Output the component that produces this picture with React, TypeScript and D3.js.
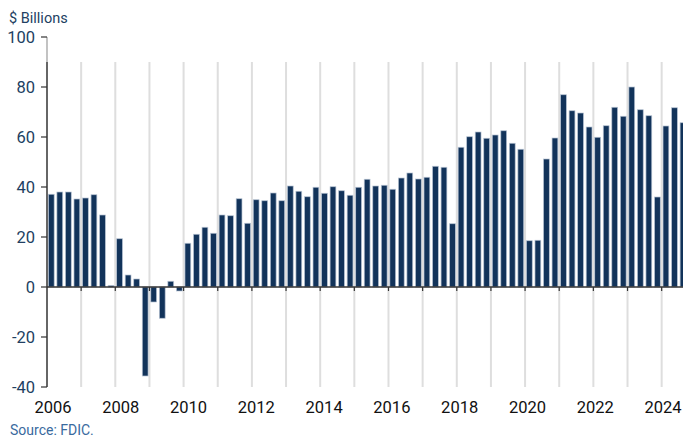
import React from "react";
import * as d3 from "d3";

const startYear = 2006;
const values: number[] = [
  37.1, 38.0, 38.0, 35.2,
  35.6, 36.9, 28.8, 0.6,
  19.3, 4.8, 3.2, -35.6,
  -6.0, -12.5, 2.3, -1.6,
  17.5, 21.1, 23.9, 21.5,
  28.8, 28.5, 35.3, 25.5,
  34.9, 34.5, 37.6, 34.5,
  40.4, 38.3, 36.1, 39.9,
  37.5, 40.1, 38.5, 36.7,
  39.9, 43.1, 40.4, 40.7,
  39.1, 43.6, 45.6, 43.2,
  43.9, 48.3, 47.9, 25.3,
  55.9, 60.1, 62.0, 59.5,
  60.8, 62.5, 57.5, 55.1,
  18.5, 18.7, 51.2, 59.6,
  76.9, 70.5, 69.6, 64.0,
  59.9, 64.5, 71.9, 68.3,
  80.0, 70.9, 68.5, 36.0,
  64.4, 71.7, 65.7,
];
const yTicks = [-40, -20, 0, 20, 40, 60, 80, 100];
const yearLabels = [2006, 2008, 2010, 2012, 2014, 2016, 2018, 2020, 2022, 2024];
const gridYears = d3.range(2007, 2025);

const W = 683;
const H = 438;
const x0 = 47;
const qW = 8.537;

export default function App() {
  const quarters = values.map((_, i) => i);
  const x = d3
    .scaleBand<number>()
    .domain(quarters)
    .range([x0, x0 + values.length * qW])
    .paddingInner(0.32)
    .paddingOuter(0.16);
  const yearX = d3.scaleLinear().domain([2006, 2024]).range([x0, x0 + 18 * 4 * qW]);
  const labelX = d3.scaleLinear().domain([2006, 2024]).range([53, 663]);
  const y = d3.scaleLinear().domain([-40, 100]).range([387, 37]);
  const font = "Roboto, 'Noto Sans', sans-serif";

  return (
    <svg
      width={W}
      height={H}
      style={{ position: "absolute", left: 0, top: 0, background: "#fff" }}
      fontFamily={font}
    >
      <defs>
        <clipPath id="clip">
          <rect x={0} y={0} width={W} height={H} />
        </clipPath>
      </defs>
      {gridYears.map((yr) => (
        <line
          key={"g" + yr}
          x1={yearX(yr)}
          x2={yearX(yr)}
          y1={y(90)}
          y2={y(-40)}
          stroke="#dedede"
          strokeWidth={2}
        />
      ))}
      {values.map((v, i) => (
        <rect
          key={"b" + i}
          x={x(i)}
          width={x.bandwidth()}
          y={y(Math.max(0, v))}
          height={Math.abs(y(v) - y(0))}
          fill="#12335a"
          stroke="#b7c3d3"
          strokeWidth={0.7}
        />
      ))}
      {/* y axis */}
      <line x1={x0} x2={x0} y1={y(100)} y2={y(90)} stroke="#9a9a9a" strokeWidth={1.2} />
      <line x1={x0} x2={x0} y1={y(90)} y2={y(-40)} stroke="#333" strokeWidth={1.5} />
      {yTicks.map((t) => (
        <g key={"y" + t}>
          <line x1={x0 - 6} x2={x0} y1={y(t)} y2={y(t)} stroke="#333" strokeWidth={1.2} />
          <text
            x={35}
            y={y(t)}
            dy="0.36em"
            textAnchor="end"
            fontSize={16.5}
            fill="#223f62"
          >
            {t}
          </text>
        </g>
      ))}
      {/* x axis */}
      <line x1={x0} x2={W} y1={y(0)} y2={y(0)} stroke="#333" strokeWidth={1.5} />
      {gridYears.map((yr) => (
        <line
          key={"t" + yr}
          x1={yearX(yr)}
          x2={yearX(yr)}
          y1={y(0)}
          y2={y(0) + 4}
          stroke="#333"
          strokeWidth={1.2}
        />
      ))}
      {yearLabels.map((yr) => (
        <text
          key={"l" + yr}
          x={labelX(yr)}
          y={413.3}
          textAnchor="middle"
          fontSize={16.5}
          fill="#111"
        >
          {yr}
        </text>
      ))}
      <text x={9} y={22.7} fontSize={14.5} fill="#223f62">
        $ Billions
      </text>
      <text x={10} y={435} fontSize={14} fill="#3a6a9e">
        Source: FDIC.
      </text>
    </svg>
  );
}
